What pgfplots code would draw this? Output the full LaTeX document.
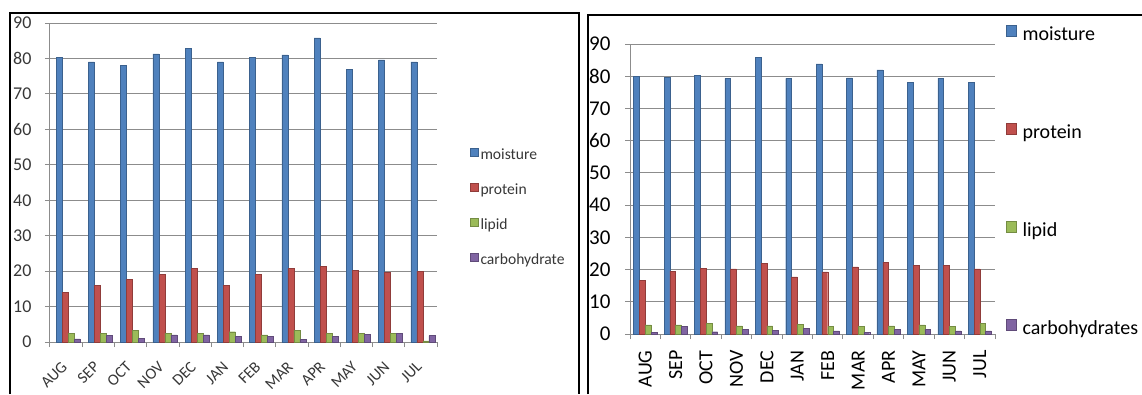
\documentclass[border=0pt]{standalone}
\usepackage{fontspec}
\setmainfont{Carlito}
\usepackage{pgfplots}
\usepackage{pgfplotstable}
\pgfplotsset{compat=1.18}
\definecolor{cM}{RGB}{79,129,189}
\definecolor{cP}{RGB}{192,80,77}
\definecolor{cL}{RGB}{155,187,89}
\definecolor{cC}{RGB}{128,100,162}
\definecolor{gridc}{RGB}{140,140,140}
\definecolor{txtL}{RGB}{55,55,55}

\pgfplotstableread{
i moist prot lip carb
0 80.3 14.0 2.5 0.9
1 79.0 16.0 2.5 1.8
2 78.0 17.6 3.2 1.1
3 81.3 19.0 2.4 2.0
4 82.8 20.8 2.4 2.0
5 79.0 16.0 2.9 1.5
6 80.3 19.0 2.0 1.5
7 81.0 20.8 3.3 0.8
8 85.8 21.3 2.5 1.5
9 77.0 20.2 2.5 2.2
10 79.6 19.6 2.4 2.4
11 79.0 20.0 0.3 1.8
}\leftdata

\pgfplotstableread{
i moist prot lip carb
0 80.0 16.6 2.8 0.5
1 79.6 19.5 2.8 2.3
2 80.3 20.3 3.3 0.7
3 79.3 20.2 2.5 1.5
4 85.8 21.9 2.5 1.2
5 79.3 17.7 3.0 1.8
6 83.8 19.3 2.3 1.0
7 79.5 20.8 2.3 0.5
8 82.0 22.3 2.5 1.5
9 78.2 21.2 2.8 1.5
10 79.4 21.2 2.3 1.0
11 78.0 20.2 3.3 1.0
}\rightdata

\pgfplotsset{
  common/.style={
    scale only axis, anchor=south west,
    xmin=-0.5, xmax=11.5, ymin=0, ymax=90,
    ybar=0pt,
    axis lines*=left,
    axis line style={gridc,line width=1pt},
    ymajorgrids, grid style={gridc,line width=1pt},
    ytick={0,10,...,90}, xtick={0,...,11},
    xticklabels={AUG,SEP,OCT,NOV,DEC,JAN,FEB,MAR,APR,MAY,JUN,JUL},
    minor xtick={-0.5,0.5,...,11.5},
    tick align=outside, major tick length=5pt, minor tick length=5pt,
    tick style={gridc,line width=1pt},
    major x tick style={draw=none},
    /pgf/number format/assume math mode=true,
    legend cell align=left,
  },
}

\begin{document}
\begin{tikzpicture}[x=1pt,y=1pt]
\useasboundingbox (0,0) rectangle (1142,394);
\draw[line width=2pt] (10,0) -- (10,381) -- (579,381) -- (579,0);
\draw[line width=2pt] (588,0) -- (588,379) -- (1142,379);

\begin{axis}[common,
  at={(50pt,52pt)}, width=387pt, height=319pt,
  bar width=6pt,
  yticklabel style={font=\fontsize{18}{20}\selectfont, text=txtL, xshift=-10pt},
  xticklabel style={font=\fontsize{16}{18}\selectfont, text=txtL, rotate=45, anchor=east, xshift=-10pt, yshift=-11pt},
  legend image code/.code={\fill[#1] (0pt,-1pt) rectangle (8pt,7pt);},
  legend style={draw=none, fill=none, at={(1.085,0.614)}, anchor=north west, inner sep=0pt,
    row sep=17pt, font=\fontsize{15.6}{18}\selectfont, text=txtL,
    nodes={text height=11pt, text depth=3pt, inner xsep=2pt}},
]
\addplot[fill=cM, draw=cM!75!black, xshift=2pt] table[x=i,y=moist]{\leftdata};
\addplot[fill=cP, draw=cP!75!black, xshift=2pt] table[x=i,y=prot]{\leftdata};
\addplot[fill=cL, draw=cL!75!black, xshift=2pt] table[x=i,y=lip]{\leftdata};
\addplot[fill=cC, draw=cC!75!black, xshift=2pt] table[x=i,y=carb]{\leftdata};
\legend{moisture,protein,lipid,carbohydrate}
\end{axis}

\begin{axis}[common,
  at={(630pt,60pt)}, width=365pt, height=290pt,
  bar width=5.8pt,
  yticklabel style={font=\fontsize{21}{23}\selectfont, text=black, xshift=-11pt},
  xticklabel style={font=\fontsize{20}{22}\selectfont, text=black, rotate=90, anchor=east, xshift=-8pt},
  legend image code/.code={\fill[#1] (0pt,-1pt) rectangle (10pt,10pt);},
  legend style={draw=none, fill=none, at={(1.030,1.069)}, anchor=north west, inner sep=0pt,
    row sep=76pt, font=\fontsize{20}{22}\selectfont, text=black,
    nodes={text height=14pt, text depth=4pt, inner xsep=6pt}},
]
\addplot[fill=cM, draw=cM!75!black] table[x=i,y=moist]{\rightdata};
\addplot[fill=cP, draw=cP!75!black] table[x=i,y=prot]{\rightdata};
\addplot[fill=cL, draw=cL!75!black] table[x=i,y=lip]{\rightdata};
\addplot[fill=cC, draw=cC!75!black] table[x=i,y=carb]{\rightdata};
\legend{moisture,protein,lipid,carbohydrates}
\end{axis}
\end{tikzpicture}
\end{document}
